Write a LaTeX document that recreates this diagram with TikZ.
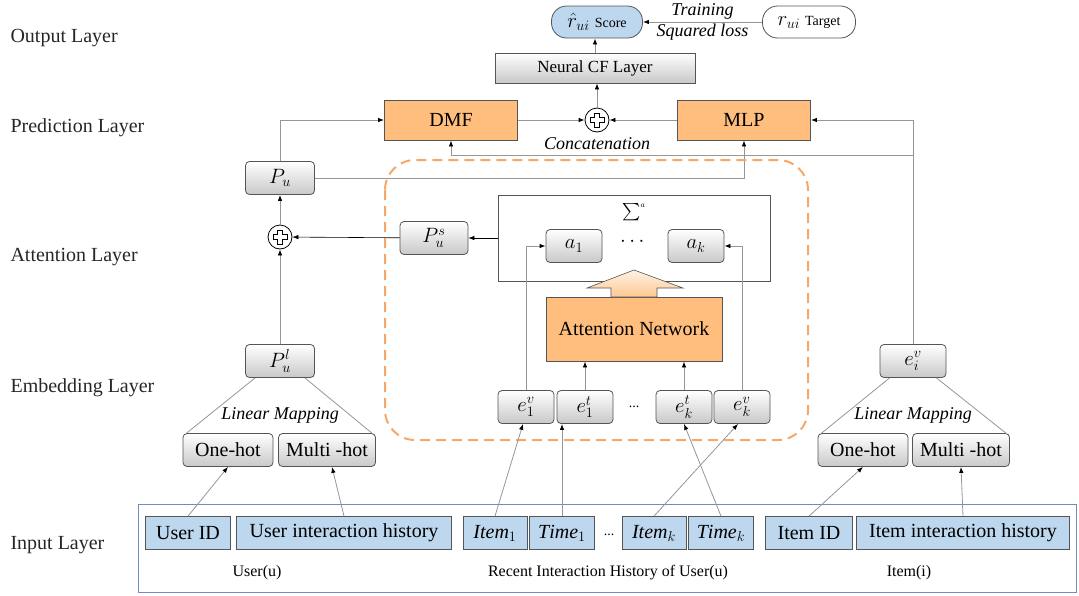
\documentclass[tikz,border=0pt]{standalone}
\usepackage{amsmath}
\usepackage{fontspec}
\setmainfont{Liberation Serif}
\usetikzlibrary{arrows.meta}
\definecolor{orangefill}{RGB}{255,190,125}
\definecolor{bluefill}{RGB}{189,215,238}
\definecolor{dashorange}{RGB}{247,168,105}
\definecolor{frameblue}{RGB}{112,140,190}
\definecolor{shadegray}{RGB}{200,200,200}
\definecolor{edgegray}{RGB}{85,85,85}
\definecolor{linegray}{RGB}{150,150,150}
\newcommand{\fsize}[1]{\fontsize{#1}{#1}\selectfont}
\newcommand{\plusglyph}[1]{\draw[line width=0.7pt,shift={(#1)}] (-2.5,-7) -- (2.5,-7) -- (2.5,-2.5) -- (7,-2.5) -- (7,2.5) -- (2.5,2.5) -- (2.5,7) -- (-2.5,7) -- (-2.5,2.5) -- (-7,2.5) -- (-7,-2.5) -- (-2.5,-2.5) -- cycle;}
\tikzset{
LAYER/.style={anchor=west,font=\fsize{20},text=black!85},
RBOX/.style={draw=edgegray,line width=0.8pt,rounded corners=4pt,top color=white,bottom color=shadegray,minimum width=#1,minimum height=33pt,inner sep=0pt,font=\fsize{20}},
RBOX/.default=56pt,
OBOX/.style={draw=edgegray,line width=0.9pt,fill=orangefill,minimum height=40pt,inner sep=0pt,font=\fsize{20}},
IBOX/.style={draw=edgegray,line width=0.7pt,fill=bluefill,minimum width=#1,minimum height=33pt,inner sep=0pt,font=\fsize{20}},
PILL/.style={draw=edgegray,line width=0.8pt,rounded corners=15pt,minimum height=32pt,inner sep=0pt,font=\fsize{20}},
PLUS/.style={circle,draw=black,line width=0.8pt,fill=white,minimum size=24pt,inner sep=0pt},
NOTE/.style={font=\fsize{18}\itshape,inner sep=2pt},
GROUP/.style={font=\fsize{16}},
LINE/.style={draw=linegray,line width=0.8pt},
ARR/.style={LINE,-{Latex[length=6pt,width=4.5pt,color=black]}},
DARR/.style={draw=black,line width=0.6pt,-{Latex[length=6pt,width=4.5pt]}},
}
\begin{document}
\begin{tikzpicture}[x=1pt,y=-1pt]
	\useasboundingbox (0,0) rectangle (1079,595);
	%Layer names
	\node[LAYER] (lout) at (7,38) {Output Layer};
	\node[LAYER] (lpred) at (7,128) {Prediction Layer};
	\node[LAYER] (latt) at (7,257) {Attention Layer};
	\node[LAYER] (lemb) at (7,388) {Embedding Layer};
	\node[LAYER] (linp) at (7,545) {Input Layer};
	%Output
	\node[PILL,fill=bluefill,minimum width=91pt] (score) at (597,22) {$\hat{r}_{ui}$ {\fsize{14}Score}};
	\node[PILL,fill=white,minimum width=93pt] (target) at (809,22) {$r_{ui}$ {\fsize{14}Target}};
	\draw[ARR] (target) -- (score) node[NOTE,midway,above] {Training} node[NOTE,midway,below] {Squared loss};
	\node[draw=edgegray,line width=0.8pt,top color=white,bottom color=shadegray,minimum width=200pt,minimum height=30pt,inner sep=0pt,font=\fsize{17}] (ncf) at (595,68) {Neural CF Layer};
	\draw[ARR] (ncf.north) -- (ncf.north |- score.south);
	%Prediction
	\node[OBOX,minimum width=133pt] (dmf) at (451,120) {DMF};
	\node[OBOX,minimum width=133pt] (mlp) at (744,120) {MLP};
	\node[PLUS] (cat) at (597,120) {};
	\plusglyph{cat}
	\node[NOTE] (catlab) at (597,144) {Concatenation};
	\draw[ARR] (dmf) -- (cat);
	\draw[ARR] (mlp) -- (cat);
	\draw[ARR] (cat) -- (cat |- ncf.south);
	%User side
	\node[RBOX=69pt] (pu) at (280,178) {$P_u$};
	\node[PLUS] (add) at (280,237) {};
	\plusglyph{add}
	\node[RBOX=69pt] (pul) at (280,361) {$P_u^l$};
	\draw[ARR] (pu.north) |- (dmf.west);
	\draw[ARR] (pu.east) -| (mlp.south);
	\draw[ARR] (add) -- (pu);
	\draw[ARR] (pul) -- (add);
	%Attention block
	\draw[dashorange,line width=2pt,dash pattern=on 10pt off 6pt,rounded corners=30pt] (385,160) rectangle (808,440);
	\node[draw=edgegray,line width=0.9pt,minimum width=272pt,minimum height=86pt] (sumbox) at (634,238) {};
	\node[font=\fsize{16}] (sigma) at (634,212) {$\sum^{\scriptscriptstyle a}$};
	\node[RBOX] (a1) at (574,246) {$a_1$};
	\node[RBOX] (ak) at (696,246) {$a_k$};
	\node[font=\fsize{20}] (adots) at (634,242) {$\cdots$};
	\node[RBOX=68pt] (pus) at (434,238) {$P_u^s$};
	\draw[DARR] (sumbox.west) -- (pus.east);
	\draw[DARR] (pus) -- (add);
	\node[OBOX,minimum width=176pt,minimum height=64pt] (attn) at (634,329) {Attention Network};
	\path[draw=edgegray,line width=0.6pt,top color=orangefill!20,bottom color=orangefill!85] (634,270) -- (683,288) -- (657,288) -- (657,297) -- (611,297) -- (611,288) -- (587,288) -- cycle;
	\node[RBOX] (e1v) at (526,407) {$e_1^v$};
	\node[RBOX] (e1t) at (585,407) {$e_1^t$};
	\node[font=\fsize{14}] (edots) at (634,407) {...};
	\node[RBOX] (ekt) at (684,407) {$e_k^t$};
	\node[RBOX] (ekv) at (742,407) {$e_k^v$};
	\draw[ARR] (e1v.north) |- (a1.west);
	\draw[ARR] (ekv.north) |- (ak.east);
	\draw[ARR] (e1t.north) -- (e1t.north |- attn.south);
	\draw[ARR] (ekt.north) -- (ekt.north |- attn.south);
	%User embedding
	\node[NOTE] (lmu) at (280,415) {Linear Mapping};
	\node[RBOX=90pt] (uone) at (228,450) {One-hot};
	\node[RBOX=97pt] (umul) at (327,450) {Multi -hot};
	\draw[LINE] ([xshift=10pt]pul.south west) -- ([xshift=4pt]uone.north west);
	\draw[LINE] ([xshift=-10pt]pul.south east) -- ([xshift=-4pt]umul.north east);
	%Item side
	\node[RBOX=66pt] (eiv) at (913,361) {$e_i^v$};
	\coordinate (brk) at (913,155);
	\draw[ARR] (eiv.north) |- (mlp.east);
	\draw[ARR] (brk) -| (dmf.south);
	\node[NOTE] (lmi) at (913,415) {Linear Mapping};
	\node[RBOX=90pt] (ione) at (863,450) {One-hot};
	\node[RBOX=97pt] (imul) at (961,450) {Multi -hot};
	\draw[LINE] ([xshift=10pt]eiv.south west) -- ([xshift=4pt]ione.north west);
	\draw[LINE] ([xshift=-10pt]eiv.south east) -- ([xshift=-4pt]imul.north east);
	%Input
	\draw[frameblue,line width=1pt] (138,504) rectangle (1076,592);
	\node[IBOX=85pt] (uid) at (188,533) {User ID};
	\node[IBOX=215pt] (uhist) at (344,533) {User interaction history};
	\node[IBOX=64pt] (item1) at (495,533) {$\mathit{Item}_1$};
	\node[IBOX=65pt] (time1) at (562,533) {$\mathit{Time}_1$};
	\node[font=\fsize{14}] (idots) at (609,535) {...};
	\node[IBOX=64pt] (itemk) at (654,533) {$\mathit{Item}_k$};
	\node[IBOX=65pt] (timek) at (721,533) {$\mathit{Time}_k$};
	\node[IBOX=87pt] (iid) at (809,533) {Item ID};
	\node[IBOX=213pt] (ihist) at (963,533) {Item interaction history};
	\node[GROUP] (ulab) at (257,573) {User(u)};
	\node[GROUP] (rlab) at (608,573) {Recent Interaction History of User(u)};
	\node[GROUP] (ilab) at (909,573) {Item(i)};
	\draw[ARR] (uid.north) -- (uone.south);
	\draw[ARR] (uhist.north) -- ([xshift=5pt]umul.south);
	\draw[ARR] (item1.north) -- ([xshift=-3pt]e1v.south);
	\draw[ARR] (time1.north) -- (time1.north |- e1t.south);
	\draw[ARR] (itemk.north) -- ([xshift=-4pt]ekv.south);
	\draw[ARR] (timek.north) -- (ekt.south);
	\draw[ARR] (iid.north) -- (ione.south);
	\draw[ARR] (ihist.north) -- (imul.south);
\end{tikzpicture}
\end{document}
